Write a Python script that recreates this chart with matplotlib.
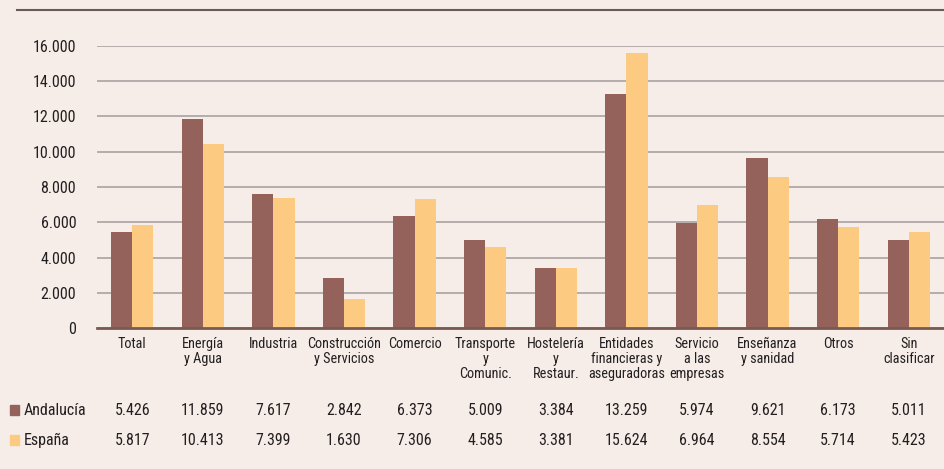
import matplotlib
matplotlib.use('agg')
import matplotlib.pyplot as plt
import matplotlib.transforms as mtransforms
import numpy as np

categorias = ["Total", "Energía\ny Agua", "Industria", "Construcción\ny Servicios", "Comercio",
              "Transporte\ny\nComunic.", "Hostelería\ny\nRestaur.", "Entidades\nfinancieras y\naseguradoras",
              "Servicio\na las\nempresas", "Enseñanza\ny sanidad", "Otros", "Sin\nclasificar"]
andalucia = [5426, 11859, 7617, 2842, 6373, 5009, 3384, 13259, 5974, 9621, 6173, 5011]
espana = [5817, 10413, 7399, 1630, 7306, 4585, 3381, 15624, 6964, 8554, 5714, 5423]
yticks = [0, 2000, 4000, 6000, 8000, 10000, 12000, 14000, 16000]

fondo = '#f6ede8'
c_and = '#94625a'
c_esp = '#fcca80'
texto = '#231f20'

plt.rcParams['font.family'] = ['Liberation Sans Narrow', 'Roboto Condensed', 'Liberation Sans', 'DejaVu Sans']

def fmt(v):
    # separador de miles con punto
    return '{:,}'.format(v).replace(',', '.')

fig = plt.figure(figsize=(9.44, 4.69), dpi=100, facecolor=fondo)
ax = fig.add_axes([97/944, 1-328/469, 1-97/944, (328-46)/469])
ax.set_facecolor(fondo)

x = np.arange(len(categorias))
w = 0.3
ax.bar(x - w/2, andalucia, w, color=c_and, zorder=3)
ax.bar(x + w/2, espana, w, color=c_esp, zorder=3)

ax.set_xlim(-0.5, len(categorias) - 0.5)
ax.set_ylim(0, 16000)
ax.set_yticks(yticks)
ax.set_yticklabels([fmt(v) for v in yticks], fontsize=11.5, color=texto)
ax.tick_params(axis='y', length=0, pad=15)
ax.set_xticks([])
ax.yaxis.grid(True, color='#a8a2a0', linewidth=1.2, zorder=0)
for s in ['top', 'right', 'left']:
    ax.spines[s].set_visible(False)
ax.spines['bottom'].set_color('#7a5a50')
ax.spines['bottom'].set_linewidth(2)
ax.spines['bottom'].set_zorder(4)

# etiquetas de categoria y tabla de datos
tr = mtransforms.blended_transform_factory(ax.transData, fig.transFigure)
for i, cat in enumerate(categorias):
    ax.text(i, 1-337/469, cat, transform=tr, ha='center', va='top', fontsize=10.3,
            color=texto, linespacing=1.08, clip_on=False)
    ax.text(i, 1-410/469, fmt(andalucia[i]), transform=tr, ha='center', va='center',
            fontsize=11.5, color=texto, clip_on=False)
    ax.text(i, 1-440/469, fmt(espana[i]), transform=tr, ha='center', va='center',
            fontsize=11.5, color=texto, clip_on=False)

# leyenda
for yy, col, lab in [(410, c_and, 'Andalucía'), (440, c_esp, 'España')]:
    fig.patches.append(plt.Rectangle((10/944, 1-(yy+5)/469), 9/944, 10/469,
                                     transform=fig.transFigure, color=col))
    fig.text(24/944, 1-yy/469, lab, ha='left', va='center', fontsize=11.5, color=texto)

# linea superior
fig.add_artist(plt.Line2D([17/944, 1], [1-10/469, 1-10/469], transform=fig.transFigure,
                          color='#6a5a55', linewidth=1.5))

plt.savefig('out.png', facecolor=fondo)
